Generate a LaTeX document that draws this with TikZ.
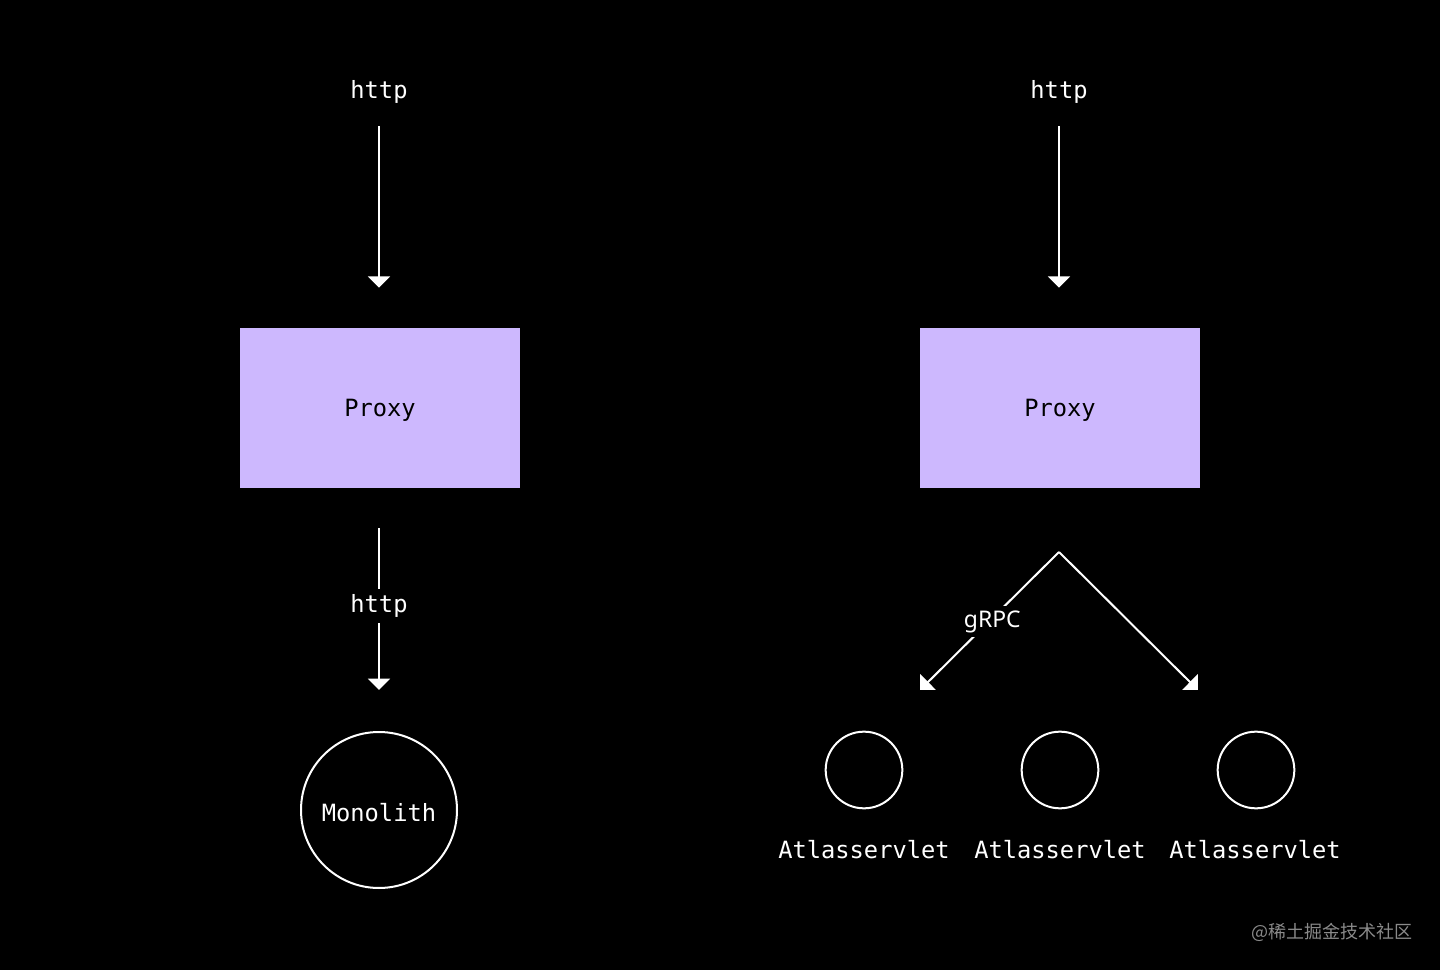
\documentclass[tikz,border=0pt]{standalone}
\usepackage{fontspec}
\setmonofont{DejaVu Sans Mono}
\setsansfont{Noto Sans}
\newfontfamily\cjkfont{Noto Sans CJK SC}
\usetikzlibrary{arrows.meta}
\definecolor{proxyfill}{HTML}{CDB8FE}
\definecolor{wmgray}{HTML}{8A8A8A}
\begin{document}
\begin{tikzpicture}[x=0.75pt,y=-0.75pt,
  mono/.style={font=\ttfamily\fontsize{17.8pt}{21pt}\selectfont, text=white},
  proxybox/.style={fill=proxyfill, minimum width=210pt, minimum height=120pt, inner sep=0pt,
    text height=16pt, text depth=3.1pt,
    font=\ttfamily\fontsize{17.8pt}{21pt}\selectfont, text=black},
  bigcirc/.style={circle, draw=white, line width=1.5pt, minimum size=117pt, inner sep=0pt,
    text height=18pt, text depth=1.5pt,
    font=\ttfamily\fontsize{17.8pt}{21pt}\selectfont, text=white},
  smallcirc/.style={circle, draw=white, line width=1.5pt, minimum size=57.5pt, inner sep=0pt},
  arr/.style={draw=white, line width=1.5pt, -{Triangle[width=16.5pt,length=8.5pt]}},
  gap/.style={fill=black, inner sep=4pt},
  grpclbl/.style={font=\sffamily\fontsize{17.2pt}{20pt}\selectfont, text=white, fill=black, inner sep=3.5pt}
]
\fill[black] (0,0) rectangle (1440,970);
\useasboundingbox (0,0) rectangle (1440,970);

% left column
\node[mono] (httpL) at (379,91.5) {http};
\node[proxybox] (proxyL) at (380,408) {Proxy};
\node[bigcirc] (mono) at (379,810) {Monolith};
\draw[arr, shorten <=26pt] (httpL.center) -- ([yshift=30pt]httpL.center |- proxyL.north);
\draw[arr, shorten <=30pt, shorten >=30.75pt] (mono.north |- proxyL.south) -- node[pos=0.48, gap, mono, yshift=-0.75pt] {http} (mono.north);

% right column
\node[mono] (httpR) at (1059,91.5) {http};
\node[proxybox] (proxyR) at (1060,408) {Proxy};
\coordinate (fork) at (1059,552);
\coordinate (tipL) at (920,690);
\coordinate (tipR) at (1198,690);
\draw[arr, shorten <=26pt] (httpR.center) -- ([yshift=30pt]httpR.center |- proxyR.north);
\draw[arr] (fork) -- node[pos=0.48, grpclbl, yshift=-2.5pt] {gRPC} (tipL);
\draw[arr] (fork) -- (tipR);

\node[smallcirc] (s1) at (864,770) {};
\node[smallcirc] (s2) at (1060,770) {};
\node[smallcirc] (s3) at (1256,770) {};
\node[mono] (l1) at (864,850) {Atlasservlet};
\node[mono] (l2) at (1060,850) {Atlasservlet};
\node[mono] (l3) at (1255,850) {Atlasservlet};

\node[font=\cjkfont\fontsize{13.5pt}{16pt}\selectfont, text=wmgray] (wm) at (1332,932) {@稀土掘金技术社区};
\end{tikzpicture}
\end{document}
